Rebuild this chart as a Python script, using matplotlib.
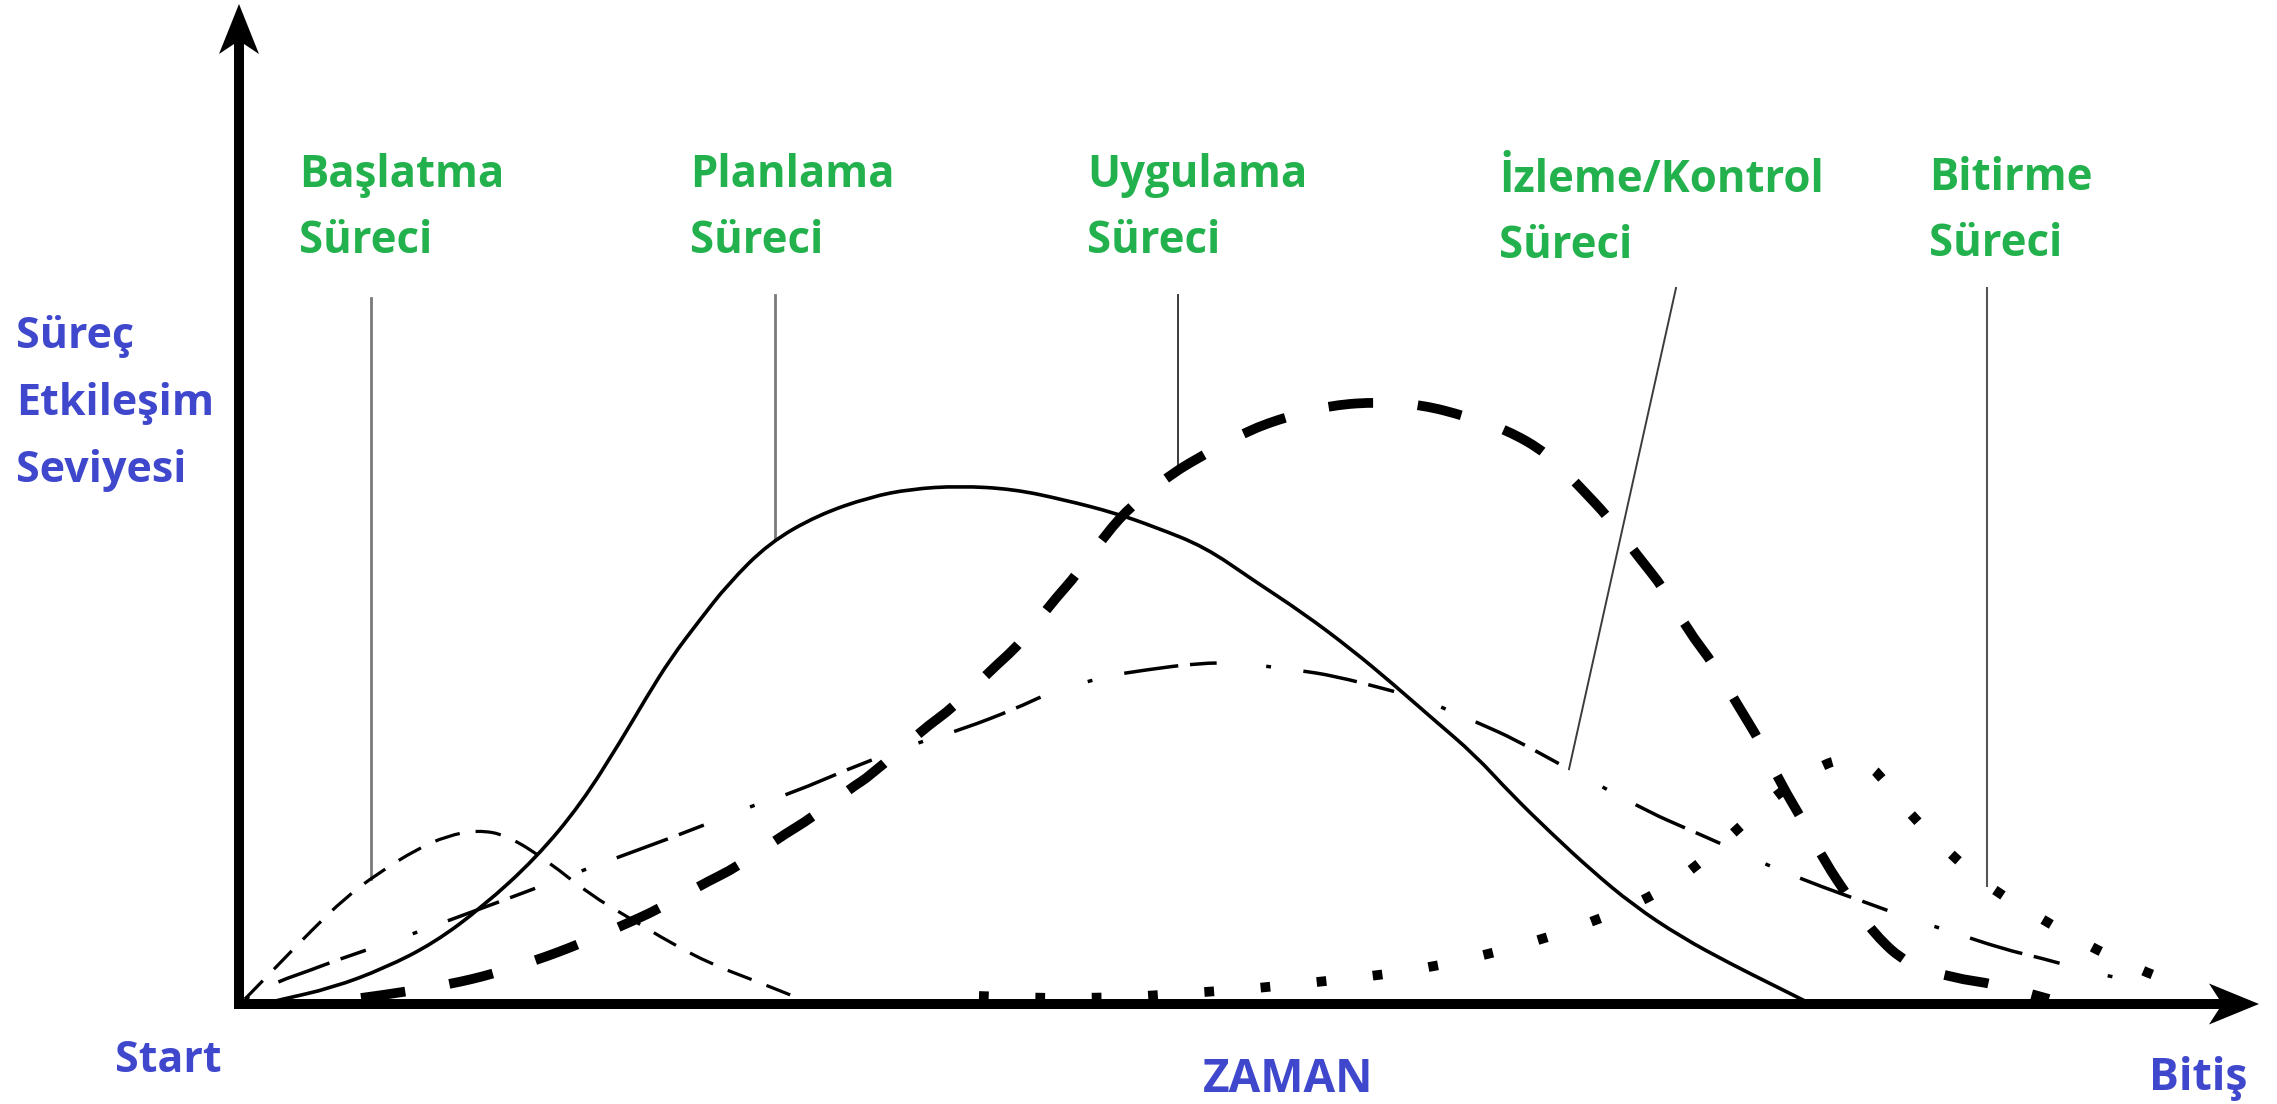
"""Process-group interaction levels over project time (PMBOK-style sketch)."""
import numpy as np
import matplotlib
matplotlib.use("Agg")
import matplotlib.pyplot as plt
from matplotlib.path import Path
from matplotlib.patches import PathPatch

# time runs 0..100 along the axis, interaction level 0..100 up the axis
baslatma_t = [0.3, 2.0, 3.6, 5.3, 6.9, 8.9, 10.4, 11.9, 13.4, 15.5, 17.5, 19.6, 21.6, 23.6, 25.7, 27.7]
baslatma_y = [0.5, 4.0, 7.3, 10.6, 13.0, 15.5, 16.8, 17.4, 16.9, 14.2, 11.0, 8.5, 6.1, 4.0, 2.4, 0.8]

planlama_t = [1.2, 2.0, 4.65, 7.3, 9.75, 12.2, 14.85, 17.1, 19.15, 20.35, 21.6, 23.0, 24.45,
              26.5, 28.95, 31.55, 33.6, 36.0, 38.7, 41.3, 43.8, 45.8, 48.3, 50.7, 53.2, 55.6,
              57.7, 59.7, 61.8, 63.6, 65.6, 67.6, 69.7, 72.1, 74.6, 76.6, 78.4]
planlama_y = [0.0, 0.4, 1.6, 3.6, 6.1, 9.75, 14.6, 20.0, 26.5, 30.6, 34.6, 38.3, 42.0,
              46.1, 48.9, 50.7, 51.5, 51.8, 51.5, 50.4, 49.1, 47.7, 45.7, 42.4, 39.1, 35.5,
              32.0, 28.5, 24.9, 21.0, 17.1, 13.4, 9.9, 6.7, 4.0, 2.0, 0.2]

uygulama_t = [6.1, 8.3, 10.6, 12.7, 14.9, 16.9, 19.0, 21.0, 23.0, 25.0, 26.9, 28.7, 30.6, 31.55,
              34.1, 35.8, 37.5, 39.1, 40.5, 42.0, 43.3, 44.7, 46.6, 48.4, 50.4, 52.5, 54.7, 57.0,
              59.2, 61.3, 63.4, 65.4, 67.0, 68.55, 69.9, 71.3, 72.4, 73.8, 74.9, 76.1, 77.1, 78.2,
              79.3, 80.5, 81.8, 83.4, 85.7, 87.8, 90.5]
uygulama_y = [0.6, 1.2, 2.0, 3.0, 4.4, 5.9, 7.7, 9.5, 11.8, 13.8, 16.5, 18.7, 21.6, 22.8,
              27.3, 29.8, 33.2, 36.1, 39.8, 43.2, 46.9, 50.0, 53.0, 55.1, 57.3, 58.8, 59.9, 60.2,
              59.9, 58.8, 57.4, 55.1, 51.8, 48.5, 44.9, 41.4, 37.5, 33.8, 30.0, 26.1, 22.0, 18.3,
              14.2, 10.6, 6.9, 4.0, 2.6, 2.0, 0.5]

izleme_t = [0.3, 1.6, 3.6, 4.9, 7.7, 9.6, 13.8, 18.3, 22.8, 25.5, 27.3, 31.55, 34.5, 36.2, 38.8,
            40.6, 43.4, 45.3, 48.0, 50.0, 52.9, 54.8, 57.5, 59.3, 62.2, 63.75, 66.2, 67.9, 70.6,
            72.2, 74.7, 76.5, 79.3, 81.0, 83.6, 85.5, 88.2, 90.1, 92.6, 94.4]
izleme_y = [0.5, 2.0, 3.4, 4.4, 6.3, 7.7, 10.8, 14.2, 17.5, 19.75, 20.8, 24.4, 26.5, 27.5, 29.5,
            31.2, 32.8, 33.4, 34.1, 34.1, 33.4, 32.8, 31.4, 30.4, 27.9, 26.5, 23.8, 22.0, 19.1,
            17.7, 15.5, 13.8, 11.6, 10.4, 8.5, 7.3, 5.5, 4.6, 3.2, 2.4]

bitirme_t = [37.0, 39.8, 42.7, 45.4, 48.3, 51.0, 53.9, 56.7, 59.4, 62.2, 64.9, 67.5, 70.1, 72.5,
             76.6, 79.0, 80.3, 81.6, 83.3, 85.3, 87.4, 89.8, 92.2, 94.8, 97.3]
bitirme_y = [0.8, 0.6, 0.6, 0.8, 1.2, 1.6, 2.2, 2.8, 3.6, 4.85, 6.3, 8.1, 10.2, 13.0,
             20.6, 23.8, 24.6, 24.1, 19.5, 15.5, 11.8, 8.9, 6.1, 3.6, 1.7]

phase_titles = ["Başlatma", "Planlama", "Uygulama", "İzleme/Kontrol", "Bitirme"]
phase_sub = "Süreci"
y_label_lines = ["Süreç", "Etkileşim", "Seviyesi"]
x_label = "ZAMAN"
x_start, x_end = "Start", "Bitiş"

GREEN = "#22B14C"
BLUE = "#3F48CC"
FONT = "Open Sans"


def smooth_path(t, y):
    """Quadratic Bezier through the midpoints, read points act as control points."""
    pts = np.column_stack([t, y])
    verts, codes = [pts[0]], [Path.MOVETO]
    for i in range(1, len(pts) - 1):
        verts += [pts[i], (pts[i] + pts[i + 1]) / 2]
        codes += [Path.CURVE3, Path.CURVE3]
    verts.append(pts[-1])
    codes.append(Path.LINETO)
    return Path(verts, codes)


fig = plt.figure(figsize=(22.77, 11.04), dpi=100)
ax = fig.add_axes([0, 0, 1, 1])
ax.set_xlim(-11.95, 101.9)
ax.set_ylim(-10, 100.4)
ax.axis("off")

curves = [
    (baslatma_t, baslatma_y, 2.3, (0, (8.0, 5.0))),
    (planlama_t, planlama_y, 2.6, "solid"),
    (uygulama_t, uygulama_y, 7.0, (0, (4.6, 4.6))),
    (izleme_t, izleme_y, 2.5, (0, (1.4, 9.4, 15.7, 3.4, 7.7, 14.3))),
    (bitirme_t, bitirme_y, 7.0, (0, (1.0, 4.8))),
]
for t, y, lw, ls in curves:
    ax.add_patch(PathPatch(smooth_path(t, y), fill=False, edgecolor="black", lw=lw,
                           linestyle=ls, capstyle="butt", joinstyle="round", zorder=2))

# leader lines from each title down to its curve
leader_top = [(6.6, 70.6), (26.8, 70.9), (46.95, 70.9), (71.85, 71.6), (87.4, 71.6)]
leader_hit = [6.6, 26.8, 46.95, 66.5, 87.4]
leader_col = ["#7a7a7a", "#7a7a7a", "#3c3c3c", "#3c3c3c", "#555555"]
leader_lw = [2.0, 2.0, 1.4, 1.4, 1.5]
for (tx, ty), th, (ct, cy, _, _), c, lw in zip(leader_top, leader_hit, curves, leader_col, leader_lw):
    yb = np.interp(th, ct, cy)
    ax.plot([tx, th], [ty, yb], color=c, lw=lw, zorder=1)

# axes drawn as arrows
ax.arrow(-0.25, 0, 101.25, 0, width=1.0, head_width=4.1, head_length=2.5, overhang=0.2,
         length_includes_head=True, color="black", lw=0, zorder=3)
ax.arrow(0, -0.5, 0, 100.5, width=0.5, head_width=2.0, head_length=5.0, overhang=0.2,
         length_includes_head=True, color="black", lw=0, zorder=3)

# phase titles
title_x = [3.0, 22.55, 42.4, 63.0, 84.5]
title_base = [81.7, 81.7, 81.7, 81.2, 81.4]
for name, tx, ty in zip(phase_titles, title_x, title_base):
    for i, line in enumerate([name, phase_sub]):
        ax.text(tx, ty - 6.6 * i, line, color=GREEN, fontsize=31.5, fontweight="bold",
                family=FONT, ha="left", va="baseline")

for i, line in enumerate(y_label_lines):
    ax.text(-11.15, 65.6 - 6.7 * i, line, color=BLUE, fontsize=31, fontweight="bold",
            family=FONT, ha="left", va="baseline")

ax.text(-6.2, -6.8, x_start, color=BLUE, fontsize=31, fontweight="bold", family=FONT,
        ha="left", va="baseline")
ax.text(48.2, -8.8, x_label, color=BLUE, fontsize=33, fontweight="bold", family=FONT,
        ha="left", va="baseline")
ax.text(95.5, -8.6, x_end, color=BLUE, fontsize=32, fontweight="bold", family=FONT,
        ha="left", va="baseline")

fig.savefig("out.png", dpi=100)
plt.close(fig)
